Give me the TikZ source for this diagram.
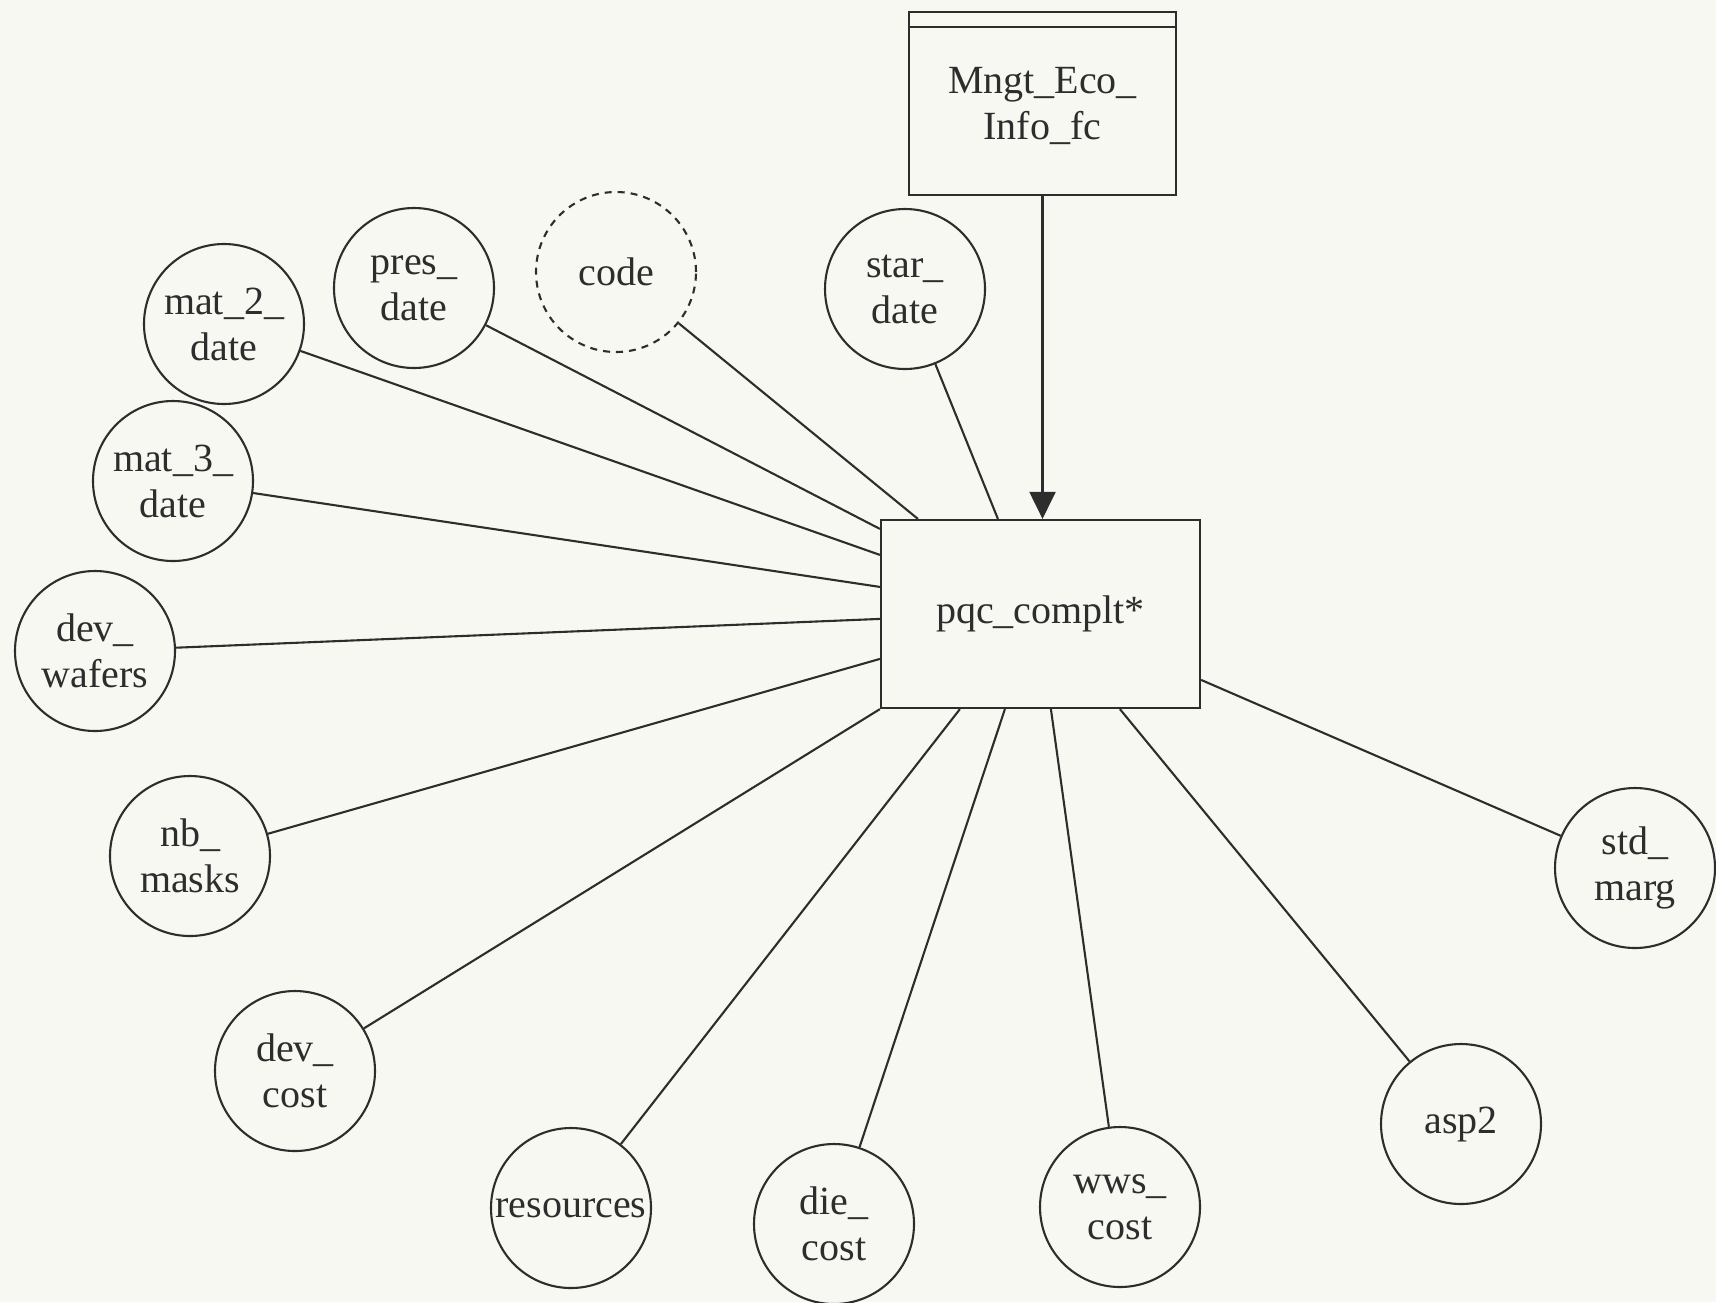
\documentclass[tikz,border=0pt]{standalone}
\usepackage{fontspec}
\setmainfont{Liberation Serif}
\usetikzlibrary{arrows.meta,calc}
\definecolor{paper}{RGB}{248,248,242}
\definecolor{ink}{RGB}{45,45,45}
\begin{document}
\begin{tikzpicture}[x=0.5pt,y=-0.5pt,
  lbl/.style={text=ink,align=center,font=\fontsize{20}{23}\selectfont},
  ent/.style={lbl,circle,draw=ink,line width=1.05pt,minimum size=80pt,inner sep=0pt},
  entdash/.style={ent,dash pattern=on 3.5pt off 3pt},
  procbox/.style={lbl,rectangle,draw=ink,line width=1.1pt,inner sep=0pt},
  conn/.style={draw=ink,line width=1.05pt}
]
\fill[paper] (0,0) rectangle (1716,1302);
\useasboundingbox (0,0) rectangle (1716,1302);

% boxes
\node[procbox,minimum width=133.5pt,minimum height=91.5pt,text depth=-3.3pt] (mngt) at (1042.5,103.5) {Mngt\_Eco\_\\Info\_fc};
\draw[ink,line width=1.1pt] ($(mngt.north west)+(0,16)$) -- ($(mngt.north east)+(0,16)$);
\node[procbox,minimum width=159.5pt,minimum height=94pt] (pqc) at (1040.5,614) {pqc\_complt*};

% entities
\node[ent] (star) at (905,289) {star\_\\date};
\node[entdash] (code) at (616,272) {code};
\node[ent] (pres) at (414,288) {pres\_\\date};
\node[ent] (mat2) at (224,324) {mat\_2\_\\date};
\node[ent] (mat3) at (173,481) {mat\_3\_\\date};
\node[ent] (devw) at (95,651) {dev\_\\wafers};
\node[ent] (nbm) at (190,856) {nb\_\\masks};
\node[ent] (devc) at (295,1071) {dev\_\\cost};
\node[ent] (res) at (571,1208) {resources};
\node[ent] (die) at (834,1224) {die\_\\cost};
\node[ent] (wws) at (1120,1207) {wws\_\\cost};
\node[ent] (asp) at (1461,1124) {asp2};
\node[ent] (std) at (1635,868) {std\_\\marg};

% arrow
\draw[conn,-{Triangle[width=13pt,length=13.5pt]}] (mngt.south) -- (mngt.south |- pqc.north);

% connectors
\draw[conn] (code) -- ($(pqc.north west)+(38,0)$);
\draw[conn] (star) -- ($(pqc.north west)+(118,0)$);
\draw[conn] (pres) -- ($(pqc.north west)+(0,10)$);
\draw[conn] (mat2) -- ($(pqc.north west)+(0,36)$);
\draw[conn] (mat3) -- ($(pqc.north west)+(0,68)$);
\draw[conn] (devw) -- ($(pqc.north west)+(0,100)$);
\draw[conn] (nbm) -- ($(pqc.north west)+(0,140)$);
\draw[conn] (devc) -- (pqc.south west);
\draw[conn] (res) -- ($(pqc.south west)+(80,0)$);
\draw[conn] (die) -- ($(pqc.south west)+(125,0)$);
\draw[conn] (wws) -- ($(pqc.south west)+(171,0)$);
\draw[conn] (asp) -- ($(pqc.south west)+(240,0)$);
\draw[conn] (std) -- ($(pqc.north east)+(0,161)$);
\end{tikzpicture}
\end{document}
